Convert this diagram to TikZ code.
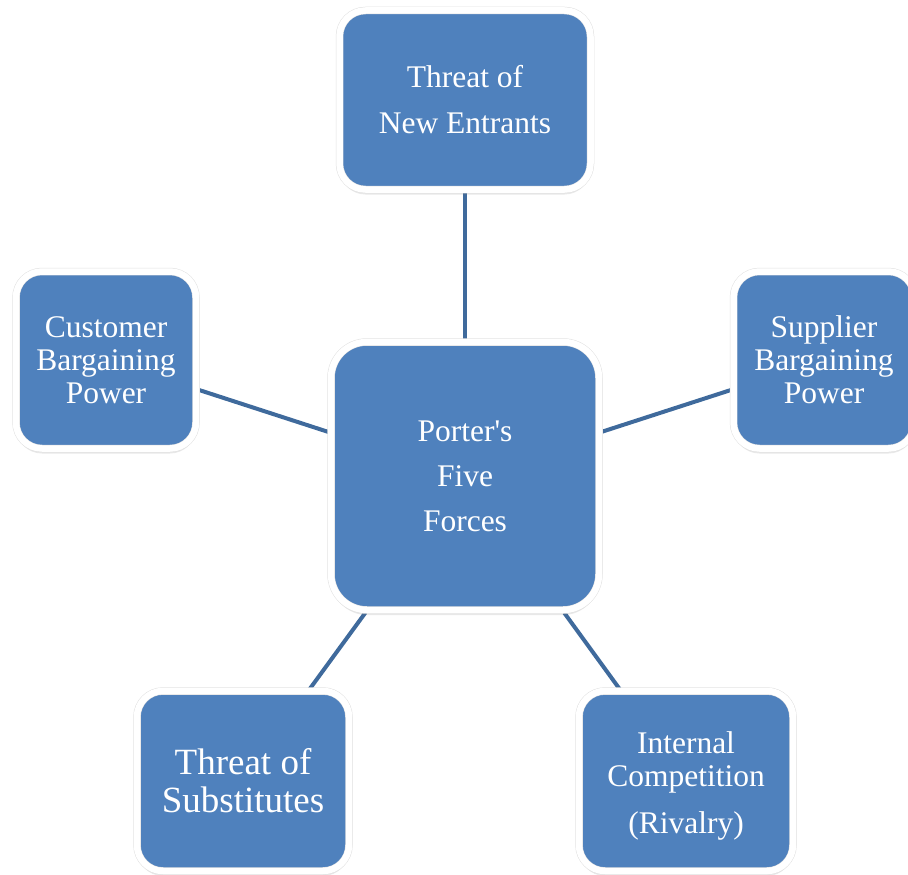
\documentclass[tikz,border=0pt]{standalone}
\usepackage{fontspec}
\setmainfont{Liberation Serif}
\usetikzlibrary{shadows,backgrounds}
\definecolor{forceblue}{HTML}{4F81BD}
\definecolor{linkblue}{HTML}{3F6A9C}
\tikzset{
  force/.style={rectangle, rounded corners=26pt, fill=forceblue,
    draw=black!12, double=white, double distance=6.5pt, line width=0.5pt,
    inner sep=0pt, text=white, align=center,
    font=\fontsize{31.5}{33}\selectfont,
    drop shadow={shadow xshift=0pt, shadow yshift=-5pt, opacity=.18}},
  link/.style={draw=linkblue, line width=4pt},
}
\begin{document}
\begin{tikzpicture}[x=1pt,y=-1pt]
  \useasboundingbox (0,0) rectangle (908,875);
  \node[force, minimum width=268pt, minimum height=268pt, rounded corners=36pt] (hub) at (465,476) {Porter\textquotesingle s\\[12pt]Five\\[12pt]Forces};
  \node[force, minimum width=251pt, minimum height=179pt] (entrants) at (465,100) {Threat of\\[13pt]New Entrants};
  \node[force, minimum width=180pt, minimum height=177pt] (customer) at (106,360) {Customer\\Bargaining\\Power};
  \node[force, minimum width=181pt, minimum height=177pt] (supplier) at (824,360) {Supplier\\Bargaining\\Power};
  \node[force, minimum width=212pt, minimum height=180pt, font=\fontsize{37}{38}\selectfont] (substitutes) at (243,781) {Threat of\\Substitutes};
  \node[force, minimum width=214pt, minimum height=180pt] (rivalry) at (686,781) {\rule{0pt}{32pt}Internal\\Competition\\[14pt](Rivalry)};
  % spokes
  \begin{scope}[on background layer]
    \draw[link] (hub) -- (entrants);
    \draw[link] (hub) -- (customer);
    \draw[link] (hub) -- (supplier);
    \draw[link] (hub) -- (substitutes);
    \draw[link] (hub) -- (rivalry);
  \end{scope}
\end{tikzpicture}
\end{document}
